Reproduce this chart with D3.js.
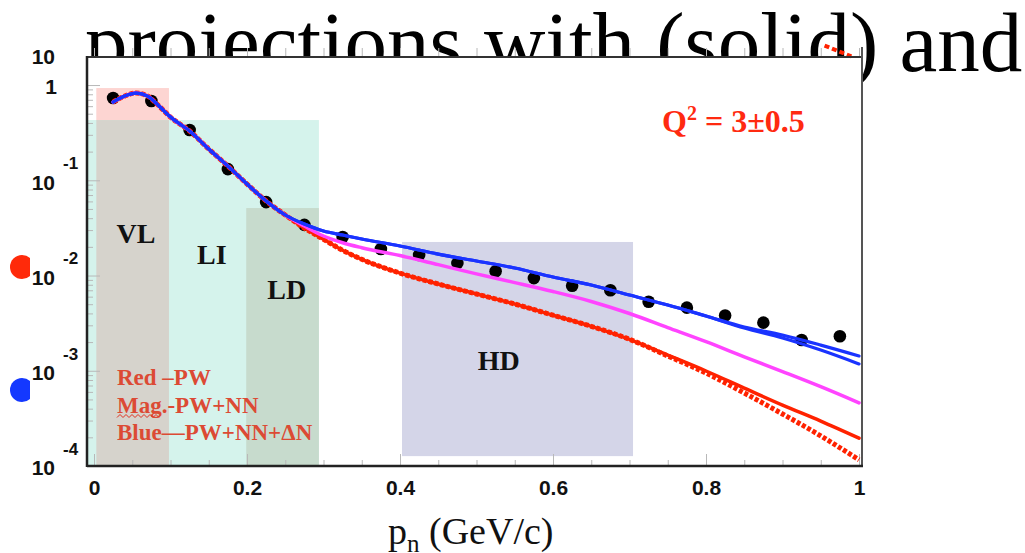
<!DOCTYPE html>
<html lang="en">
<head>
<meta charset="UTF-8">
<title>pn distribution, Q2 = 3</title>
<script src="https://d3js.org/d3.v7.min.js"></script>
<style>
  body { margin: 0; background: #fff; }
  svg { display: block; }
</style>
</head>
<body>
<div id="chart"></div>
<script>
// momentum grid (GeV/c) shared by all the curves
const pGrid = [0.025, 0.04, 0.055, 0.07, 0.085, 0.1, 0.125, 0.15, 0.175, 0.2, 0.225, 0.25,
               0.275, 0.3, 0.325, 0.35, 0.4, 0.45, 0.5, 0.55, 0.6, 0.65, 0.7, 0.75, 0.8, 0.85, 0.9, 0.95, 1.0];

// low-p part where all calculations coincide
const headVals = [0.663, 0.766, 0.824, 0.766, 0.602, 0.461, 0.329, 0.213, 0.141, 0.0914, 0.0606, 0.0432];

const blueA = headVals.concat([0.0347, 0.0293, 0.0266, 0.0242, 0.0204, 0.0168, 0.0142, 0.0120, 0.00964,
                               0.00794, 0.00624, 0.00490, 0.00376, 0.00288, 0.00237, 0.00186, 0.00143]);
const blueB = headVals.concat([0.0347, 0.0293, 0.0266, 0.0242, 0.0204, 0.0168, 0.0142, 0.0120, 0.00964,
                               0.00794, 0.00624, 0.00490, 0.00376, 0.00281, 0.00221, 0.00165, 0.00118]);
const magenta = headVals.concat([0.0331, 0.0260, 0.0221, 0.0196, 0.0162, 0.0130, 0.0104, 0.00843, 0.00679,
                                 0.00534, 0.00399, 0.00284, 0.00202, 0.00140, 0.00098, 0.00068, 0.00046]);
const redSolid = headVals.concat([0.0315, 0.0240, 0.0184, 0.0148, 0.0106, 0.00815, 0.00640, 0.00502, 0.00383,
                                  0.00293, 0.00214, 0.00146, 0.000994, 0.000657, 0.000436, 0.000296, 0.000196]);
const redDashed = headVals.concat([0.0315, 0.0240, 0.0184, 0.0148, 0.0106, 0.00815, 0.00640, 0.00502, 0.00383,
                                   0.00293, 0.00214, 0.00143, 0.000946, 0.000584, 0.000352, 0.000207, 0.000116]);

// measured points
const dataP = [0.025, 0.075, 0.125, 0.175, 0.225, 0.275, 0.325, 0.375, 0.425, 0.475,
               0.525, 0.575, 0.625, 0.675, 0.725, 0.775, 0.825, 0.875, 0.925, 0.975];
const dataV = [0.73, 0.68, 0.337, 0.131, 0.059, 0.034, 0.0254, 0.019, 0.0164, 0.0135,
               0.0111, 0.0094, 0.0078, 0.0070, 0.0053, 0.0046, 0.0038, 0.0032, 0.0021, 0.0023];

// stray dashed piece sticking out above the frame
const strayP = [0.955, 0.99];
const strayV = [2.6, 2.0];

// kinematic regions: [p0, p1, vTop, vBottom]
const regionBox = [[-0.008, 0.294, 0.429, 1e-4],
                   [0.003, 0.098, 0.93, 0.429],
                   [0.003, 0.098, 0.429, 1e-4],
                   [0.199, 0.294, 0.0511, 1e-4],
                   [0.4026, 0.7046, 0.0225, 0.000127]];
const regionFill = ["#d5f3ec", "#fdd5d2", "#d6d3cc", "#c7dbcd", "#d4d5e8"];
const regionText = ["VL", "LI", "LD", "HD"];
const regionTextPos = [[0.055, 0.0220], [0.154, 0.0132], [0.252, 0.00567], [0.529, 0.00102]];

const xTicks = [0, 0.2, 0.4, 0.6, 0.8, 1];
const xTickLabels = ["0", "0.2", "0.4", "0.6", "0.8", "1"];
const yTicks = [1e-4, 1e-3, 1e-2, 1e-1, 1];
const yTickBase = ["10", "10", "10", "10", "1"];
const yTickExp = ["-4", "-3", "-2", "-1", ""];

const legendLines = ["Red \u2013PW", "Mag.-PW+NN", "Blue\u2014PW+NN+\u0394N"];

const W = 1025, H = 553;
const frame = {left: 87, right: 862, top: 57, bottom: 466};

const svg = d3.select("#chart").append("svg")
    .attr("width", W).attr("height", H);
svg.append("rect").attr("width", W).attr("height", H).attr("fill", "#fff");

// big slide text behind the plot
svg.append("text")
    .attr("x", 85).attr("y", 71)
    .attr("font-family", "'Liberation Serif', 'Times New Roman', serif")
    .attr("font-size", 85)
    .attr("fill", "#000")
    .text("projections with (solid) and");

// plot pad
svg.append("rect")
    .attr("x", frame.left).attr("y", frame.top)
    .attr("width", frame.right - frame.left).attr("height", frame.bottom - frame.top)
    .attr("fill", "#fff");

const x = d3.scaleLinear().domain([0, 1]).range([94, 859]);
const y = d3.scaleLog().domain([1e-4, 1.97]).range([frame.bottom, frame.top]);

// region boxes
svg.append("g").selectAll("rect")
    .data(regionBox)
    .join("rect")
    .attr("x", d => x(d[0]))
    .attr("width", d => x(d[1]) - x(d[0]))
    .attr("y", d => y(d[2]))
    .attr("height", d => y(d[3]) - y(d[2]))
    .attr("fill", (d, i) => regionFill[i]);

// ticks
const tickCol = "#b8b8b8";
function styleAxis(g) {
  g.select(".domain").remove();
  g.selectAll(".tick line").attr("stroke", tickCol).attr("stroke-width", 1);
}
const xMinor = d3.range(0, 21).map(i => i / 20);
svg.append("g").attr("transform", `translate(0,${frame.bottom})`)
    .call(d3.axisBottom(x).tickValues(xMinor).tickSize(-6).tickFormat(""))
    .call(styleAxis);
svg.append("g").attr("transform", `translate(0,${frame.top})`)
    .call(d3.axisTop(x).tickValues(xMinor).tickSize(9).tickFormat(""))
    .call(styleAxis);
const xAxis = svg.append("g").attr("transform", `translate(0,${frame.bottom})`)
    .call(d3.axisBottom(x).tickValues(xTicks).tickSize(-12).tickPadding(14)
      .tickFormat((d, i) => xTickLabels[i]))
    .call(styleAxis);
xAxis.selectAll("text")
    .attr("font-family", "'Liberation Sans', Arial, sans-serif")
    .attr("font-weight", "bold")
    .attr("font-size", 21)
    .attr("fill", "#111");

const yMinor = [];
[-4, -3, -2, -1, 0].forEach(e => {
  for (let k = 2; k <= 9; k++) {
    const v = k * Math.pow(10, e);
    if (v <= 1.97) yMinor.push(v);
  }
});
svg.append("g").attr("transform", `translate(${frame.left},0)`)
    .call(d3.axisLeft(y).tickValues(yMinor).tickSize(-6).tickFormat(""))
    .call(styleAxis);
svg.append("g").attr("transform", `translate(${frame.left},0)`)
    .call(d3.axisLeft(y).tickValues(yTicks).tickSize(-13).tickFormat(""))
    .call(styleAxis);

// y labels: 10 with exponent
const yLab = svg.append("g")
    .attr("font-family", "'Liberation Sans', Arial, sans-serif")
    .attr("font-weight", "bold")
    .attr("fill", "#111");
yTicks.forEach((v, i) => {
  const ty = y(v);
  yLab.append("text")
      .attr("x", yTickExp[i] ? 55 : 57).attr("y", ty + 2)
      .attr("dy", "0.35em")
      .attr("text-anchor", "end")
      .attr("font-size", 21)
      .text(yTickBase[i]);
  if (yTickExp[i]) {
    yLab.append("text")
        .attr("x", 63).attr("y", ty - 17)
        .attr("dy", "0.35em")
        .attr("font-size", 17)
        .text(yTickExp[i]);
  }
});
// the unlabelled top "10"
yLab.append("text")
    .attr("x", 55).attr("y", y(1.97))
    .attr("dy", "0.35em")
    .attr("text-anchor", "end")
    .attr("font-size", 21)
    .text("10");

// data points (under the curves)
svg.append("g").selectAll("circle")
    .data(dataP)
    .join("circle")
    .attr("cx", d => x(d))
    .attr("cy", (d, i) => y(dataV[i]))
    .attr("r", 6.3)
    .attr("fill", "#000");

// curves
const line = d3.line()
    .x(d => x(d[0]))
    .y(d => y(d[1]))
    .curve(d3.curveMonotoneX);
const series = [
  {vals: redDashed, color: "#ff2200", width: 5, dash: "4,2"},
  {vals: redSolid, color: "#ff2200", width: 3.5, dash: null},
  {vals: magenta, color: "#ff44ff", width: 3.5, dash: null},
  {vals: blueB, color: "#1a33ff", width: 3.2, dash: null},
  {vals: blueA, color: "#1a33ff", width: 3.2, dash: null}
];
svg.append("g").selectAll("path")
    .data(series)
    .join("path")
    .attr("d", s => line(pGrid.map((p, i) => [p, s.vals[i]])))
    .attr("fill", "none")
    .attr("stroke", s => s.color)
    .attr("stroke-width", s => s.width)
    .attr("stroke-dasharray", s => s.dash)
    .attr("stroke-linecap", s => s.dash ? "butt" : "round");

svg.append("path")
    .attr("d", line(strayP.map((p, i) => [p, strayV[i]])))
    .attr("fill", "none")
    .attr("stroke", "#ff2200")
    .attr("stroke-width", 4)
    .attr("stroke-dasharray", "5,3");

// region labels
svg.append("g").selectAll("text")
    .data(regionText)
    .join("text")
    .attr("x", (d, i) => x(regionTextPos[i][0]))
    .attr("y", (d, i) => y(regionTextPos[i][1]))
    .attr("text-anchor", "middle")
    .attr("font-family", "'Liberation Serif', 'Times New Roman', serif")
    .attr("font-weight", "bold")
    .attr("font-size", 28)
    .attr("fill", "#111")
    .text(d => d);

// legend
const leg = svg.append("g")
    .attr("font-family", "'Liberation Serif', 'Times New Roman', serif")
    .attr("font-weight", "bold")
    .attr("font-size", 23)
    .attr("fill", "#dc4a34");
legendLines.forEach((t, i) => {
  leg.append("text").attr("x", 117).attr("y", 385 + i * 27.5).text(t);
});
// spell-check squiggle under "Mag."
const squig = d3.range(117, 161, 3).map((px, i) => [px, 416 + (i % 2 ? -1.5 : 1.5)]);
svg.append("path")
    .attr("d", d3.line()(squig))
    .attr("fill", "none")
    .attr("stroke", "#e03020")
    .attr("stroke-width", 1);

// Q^2 label
const q = svg.append("text")
    .attr("x", 662).attr("y", 132)
    .attr("font-family", "'Liberation Serif', 'Times New Roman', serif")
    .attr("font-weight", "bold")
    .attr("font-size", 32)
    .attr("fill", "#ff2a10");
q.append("tspan").text("Q");
q.append("tspan").attr("font-size", 20).attr("dy", -12).text("2");
q.append("tspan").attr("dy", 12).text(" = 3\u00b10.5");

// frame
const fr = svg.append("g").attr("fill", "none");
fr.append("line").attr("x1", frame.left).attr("x2", frame.right)
    .attr("y1", frame.top).attr("y2", frame.top)
    .attr("stroke", "#333").attr("stroke-width", 2);
fr.append("line").attr("x1", frame.right).attr("x2", frame.right)
    .attr("y1", 47).attr("y2", frame.bottom)
    .attr("stroke", "#555").attr("stroke-width", 2);
fr.append("line").attr("x1", frame.left).attr("x2", frame.right + 1)
    .attr("y1", frame.bottom).attr("y2", frame.bottom)
    .attr("stroke", "#222").attr("stroke-width", 2.5);
fr.append("line").attr("x1", frame.left).attr("x2", frame.left)
    .attr("y1", frame.top - 1).attr("y2", frame.bottom + 1)
    .attr("stroke", "#222").attr("stroke-width", 2.5);

// x title
const xt = svg.append("text")
    .attr("x", 388).attr("y", 544)
    .attr("font-family", "'Liberation Serif', 'Times New Roman', serif")
    .attr("font-size", 38)
    .attr("fill", "#111");
xt.append("tspan").text("p");
xt.append("tspan").attr("font-size", 25).attr("dy", 8).text("n");
xt.append("tspan").attr("dy", -8).text(" (GeV/c)");

// half-hidden bullet markers at the left edge
const clip = svg.append("clipPath").attr("id", "edgeclip");
clip.append("rect").attr("x", 0).attr("y", 0).attr("width", 30).attr("height", H);
const bullets = svg.append("g").attr("clip-path", "url(#edgeclip)");
bullets.append("circle").attr("cx", 22).attr("cy", 267).attr("r", 12).attr("fill", "#ff2a0a");
bullets.append("circle").attr("cx", 22).attr("cy", 390).attr("r", 12).attr("fill", "#1438ff");
</script>
</body>
</html>
